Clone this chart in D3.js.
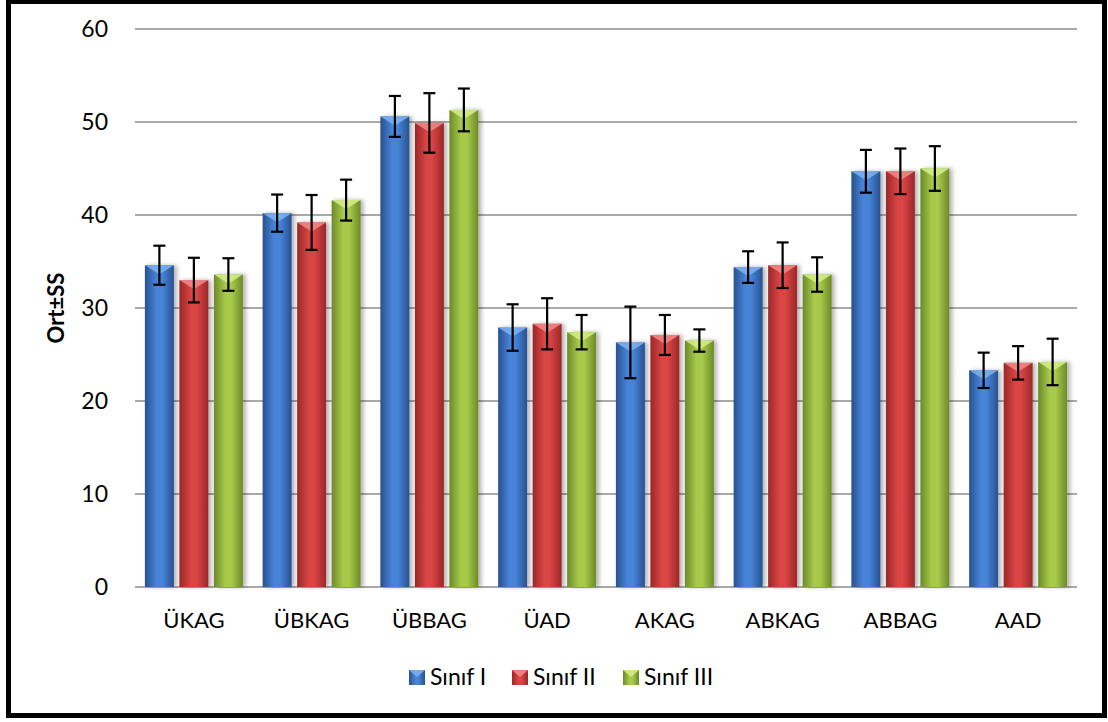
<!DOCTYPE html>
<html>
<head>
<meta charset="utf-8">
<script src="https://cdn.jsdelivr.net/npm/d3@7"></script>
<style>
  html, body { margin: 0; padding: 0; background: #fff; }
  svg { display: block; }
  text { font-family: Lato, "Open Sans", sans-serif; fill: #000; }
</style>
</head>
<body>
<div id="chart"></div>
<script>
// data
var categories = ["ÜKAG", "ÜBKAG", "ÜBBAG", "ÜAD", "AKAG", "ABKAG", "ABBAG", "AAD"];
var seriesNames = ["Sınıf I", "Sınıf II", "Sınıf III"];
var meansI   = [34.6, 40.2, 50.6, 27.9, 26.3, 34.4, 44.7, 23.3];
var meansII  = [33.0, 39.2, 49.9, 28.3, 27.1, 34.6, 44.7, 24.1];
var meansIII = [33.6, 41.6, 51.3, 27.4, 26.5, 33.6, 45.0, 24.2];
var sdI   = [2.1, 2.0, 2.2, 2.5, 3.85, 1.7, 2.3, 1.9];
var sdII  = [2.4, 2.95, 3.2, 2.75, 2.15, 2.45, 2.45, 1.8];
var sdIII = [1.75, 2.2, 2.3, 1.85, 1.2, 1.85, 2.4, 2.5];
var yTicks = [0, 10, 20, 30, 40, 50, 60];

var means = [meansI, meansII, meansIII];
var sds = [sdI, sdII, sdIII];
var palette = [
  { edge: "#28518f", mid: "#4684d8", top: "#7fb2f0" },
  { edge: "#9a2828", mid: "#da4444", top: "#f28a8a" },
  { edge: "#6c8a28", mid: "#a8ca4c", top: "#d6ee86" }
];

var W = 1108, H = 722;
var svg = d3.select("#chart").append("svg")
    .attr("width", W)
    .attr("height", H);

var defs = svg.append("defs");
palette.forEach(function(p, i) {
  var g = defs.append("linearGradient")
      .attr("id", "grad" + i)
      .attr("x1", "0%").attr("x2", "100%").attr("y1", "0%").attr("y2", "0%");
  g.append("stop").attr("offset", "0%").attr("stop-color", p.edge);
  g.append("stop").attr("offset", "40%").attr("stop-color", p.mid);
  g.append("stop").attr("offset", "60%").attr("stop-color", p.mid);
  g.append("stop").attr("offset", "100%").attr("stop-color", p.edge);
});
var sh = defs.append("filter").attr("id", "shadow")
    .attr("x", "-20%").attr("y", "-5%").attr("width", "160%").attr("height", "110%");
sh.append("feDropShadow").attr("dx", 3).attr("dy", 0).attr("stdDeviation", 2)
    .attr("flood-color", "#000").attr("flood-opacity", 0.3);

// outer frame
svg.append("rect")
    .attr("x", 8.5).attr("y", 1.5)
    .attr("width", 1096).attr("height", 714)
    .attr("fill", "none")
    .attr("stroke", "#000")
    .attr("stroke-width", 5);

var x = d3.scaleBand()
    .domain(categories)
    .range([135, 1077])
    .paddingInner(0.168)
    .paddingOuter(0.084);

var xs = d3.scaleBand()
    .domain(d3.range(seriesNames.length))
    .range([0, x.bandwidth()])
    .paddingInner(0.16);

var y = d3.scaleLinear()
    .domain([0, 60])
    .range([587, 29]);

// gridlines
svg.append("g").selectAll("line")
    .data(yTicks)
    .enter().append("line")
    .attr("x1", 135).attr("x2", 1077)
    .attr("y1", d => y(d)).attr("y2", d => y(d))
    .attr("stroke", "#8c8c8c")
    .attr("stroke-width", 1.4);

// y tick labels
svg.append("g").selectAll("text")
    .data(yTicks)
    .enter().append("text")
    .attr("x", 108)
    .attr("y", d => y(d))
    .attr("dy", "0.35em")
    .attr("text-anchor", "end")
    .style("font-size", "23px")
    .text(d => d);

// y title
svg.append("text")
    .attr("transform", "translate(64," + y(30) + ") rotate(-90)")
    .attr("text-anchor", "middle")
    .style("font-size", "22px")
    .style("font-weight", "bold")
    .text("Ort±SS");

// x labels
svg.append("g").selectAll("text")
    .data(categories)
    .enter().append("text")
    .attr("x", d => x(d) + x.bandwidth() / 2)
    .attr("y", 620)
    .attr("dy", "0.35em")
    .attr("text-anchor", "middle")
    .style("font-size", "22px")
    .text(d => d);

// bars
var bw = xs.bandwidth();
seriesNames.forEach(function(s, si) {
  var g = svg.append("g");
  categories.forEach(function(c, ci) {
    var x0 = x(c) + xs(si);
    var yTop = y(means[si][ci]);
    g.append("rect")
        .attr("x", x0).attr("y", yTop)
        .attr("width", bw).attr("height", y(0) - yTop)
        .attr("fill", "url(#grad" + si + ")")
        .attr("filter", "url(#shadow)");
    // bevel highlight on top
    g.append("path")
        .attr("d", "M" + x0 + "," + yTop + "L" + (x0 + bw) + "," + yTop +
             "L" + (x0 + bw / 2) + "," + (yTop + 9) + "Z")
        .attr("fill", palette[si].top)
        .attr("opacity", 0.85);
  });
});

// error bars
seriesNames.forEach(function(s, si) {
  var g = svg.append("g")
      .attr("stroke", "#000")
      .attr("stroke-width", 2.2);
  categories.forEach(function(c, ci) {
    var cx = x(c) + xs(si) + bw / 2;
    var hi = y(means[si][ci] + sds[si][ci]);
    var lo = y(means[si][ci] - sds[si][ci]);
    g.append("line").attr("x1", cx).attr("x2", cx).attr("y1", hi).attr("y2", lo);
    g.append("line").attr("x1", cx - 6).attr("x2", cx + 6).attr("y1", hi).attr("y2", hi);
    g.append("line").attr("x1", cx - 6).attr("x2", cx + 6).attr("y1", lo).attr("y2", lo);
  });
});

// legend
var legendX = [409, 512, 623];
var legend = svg.append("g");
seriesNames.forEach(function(s, si) {
  var lx = legendX[si];
  legend.append("rect")
      .attr("x", lx).attr("y", 670)
      .attr("width", 16).attr("height", 15)
      .attr("fill", "url(#grad" + si + ")");
  legend.append("path")
      .attr("d", "M" + lx + ",670L" + (lx + 16) + ",670L" + (lx + 8) + ",677Z")
      .attr("fill", palette[si].top)
      .attr("opacity", 0.85);
  legend.append("text")
      .attr("x", lx + 21)
      .attr("y", 677)
      .attr("dy", "0.35em")
      .style("font-size", "23px")
      .text(s);
});
</script>
</body>
</html>
